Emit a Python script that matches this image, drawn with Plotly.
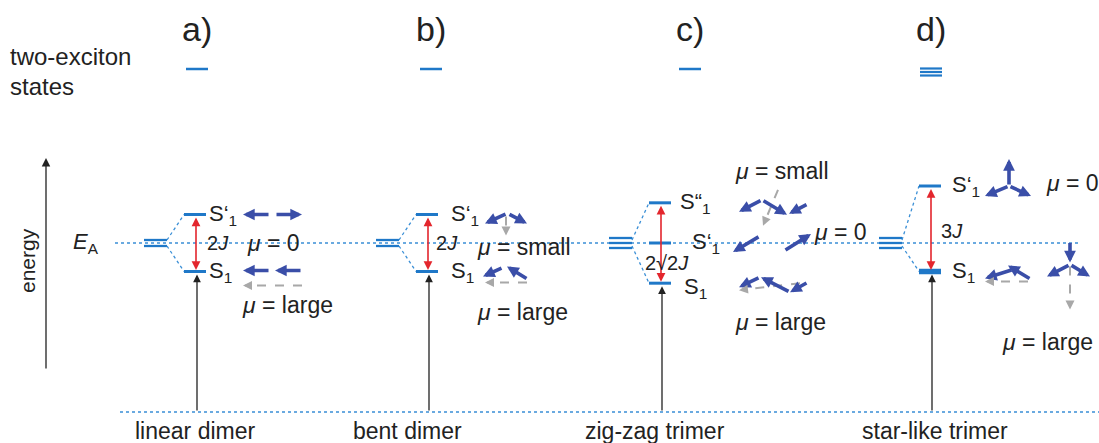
import plotly.graph_objects as go

# ---- data -------------------------------------------------------------
systems = ["linear dimer", "bent dimer", "zig-zag trimer", "star-like trimer"]
panel_tags = ["a)", "b)", "c)", "d)"]
monomer_degeneracy = [2, 2, 3, 3]
biexciton_lines = [1, 1, 1, 3]

# one-exciton energies relative to E_A, in units of J
level_energy = [
    [1.0, -1.0],
    [1.0, -1.0],
    [1.41, 0.0, -1.41],
    [2.0, -1.0],
]
level_degeneracy = [[1, 1], [1, 1], [1, 1, 1], [1, 2]]
level_names = [
    ["S‘<sub>1</sub>", "S<sub>1</sub>"],
    ["S‘<sub>1</sub>", "S<sub>1</sub>"],
    ["S“<sub>1</sub>", "S‘<sub>1</sub>", "S<sub>1</sub>"],
    ["S‘<sub>1</sub>", "S<sub>1</sub>"],
]
splitting = ["2<i>J</i>", "2<i>J</i>", "2√2<i>J</i>", "3<i>J</i>"]
mu_text = [
    ["<i>μ</i> = 0", "<i>μ</i> = large"],
    ["<i>μ</i> = small", "<i>μ</i> = large"],
    ["<i>μ</i> = small", "<i>μ</i> = 0", "<i>μ</i> = large"],
    ["<i>μ</i> = 0", "<i>μ</i> = large"],
]

# ---- layout helpers (pixels) -----------------------------------------
W, H = 1099, 443
EA_PX = 243      # pixel row of E_A
J_PX = 28.5      # pixels per J
BASE_PX = 412    # ground-state line


def ey(px):
    """pixel row -> energy axis value"""
    return (EA_PX - px) / J_PX


panel_x = [196, 428, 661, 931]
tag_x = [197, 431, 690, 931]
label_off = [[(11, 0), (11, 0)], [(21, 0), (21, 0)],
             [(17, 0), (29, 0), (21, 5)], [(19, 0), (19, 0)]]
split_pos = [(9, 243), (6, 243), (-18, 263), (8, 231)]
mu_pos = [[(49, 243), (44, 305)], [(47, 247), (47, 312)],
          [(72, 171), (151, 232), (72, 322)], [(113, 183), (69, 342)]]
name_x = [195, 407, 655, 935]

# dipole pictograms: (level, kind, x0, dy0, x1, dy1) relative to panel x / level row
pictos = [
    [(0, "d", 74, 0, 47, 0), (0, "d", 79, 0, 106, 0),
     (1, "d", 74, -1, 47, -1), (1, "d", 106, -1, 79, -1), (1, "g", 106, 14, 47, 14)],
    [(0, "d", 79, -1, 57, 9), (0, "d", 80, -1, 99, 9), (0, "g", 78, 2, 78, 21),
     (1, "d", 75, -4, 55, 5), (1, "d", 100, 8, 79, -5), (1, "g", 99, 11, 57, 11)],
    [(0, "d", 101, -3, 78, 9), (0, "d", 101, -3, 126, 12), (0, "d", 147, 1, 128, 11),
     (0, "g", 117, -13, 102, 23),
     (1, "d", 99, -7, 72, 9), (1, "d", 123, 8, 150, -9),
     (2, "d", 99, -6, 78, 4), (2, "d", 129, 9, 100, -6), (2, "d", 147, -1, 129, 9),
     (2, "g", 139, 0, 78, 7)],
    [(0, "d", 78, 0, 78, -27), (0, "d", 78, 0, 54, 10), (0, "d", 78, 0, 100, 10),
     (1, "d", 82, -2, 54, 7), (1, "d", 100, 8, 77, -6), (1, "g", 97, 10, 54, 10),
     (1, "d", 139, -30, 139, -9), (1, "d", 139, -7, 116, 5), (1, "d", 139, -7, 159, 5),
     (1, "g", 139, -5, 139, 38)],
]

LEVEL = "#1f78c8"
DOT = "#3a8fd6"
DIP = "#3a4ea8"
RED = "#e3262d"
GRAY = "#a8a8a8"
FONT = "Liberation Sans, Arial, sans-serif"

shapes = []
ann = []


def line(x0, y0, x1, y1, color, width, dash="solid"):
    shapes.append(dict(type="line", xref="x", yref="y", x0=x0, y0=y0, x1=x1, y1=y1,
                       line=dict(color=color, width=width, dash=dash)))


def arrow(x0, y0, x1, y1, color, width, size=1.0, both=False):
    ann.append(dict(x=x1, y=y1, ax=x0, ay=y0, xref="x", yref="y", axref="x", ayref="y",
                    text="", showarrow=True, arrowhead=2, arrowsize=size,
                    arrowwidth=width, arrowcolor=color, standoff=0, startstandoff=0,
                    arrowside="end+start" if both else "end",
                    startarrowhead=2, startarrowsize=size))


def text(x, y, s, size, anchor="left", color="#222", **kw):
    ann.append(dict(x=x, y=y, xref="x", yref="y", text=s, showarrow=False,
                    xanchor=anchor, yanchor="middle",
                    font=dict(family=FONT, size=size, color=color), **kw))


# global elements
line(115, 0, 1080, 0, DOT, 1.5, "dot")
line(120, ey(BASE_PX), W, ey(BASE_PX), DOT, 1.5, "dot")
arrow(46, ey(370), 46, ey(158), "#222", 1.3, 1.3)
text(27, ey(261), "energy", 21, anchor="center", textangle=-90)
text(101, 0, "<i>E</i><sub>A</sub>", 22, anchor="right")
text(8, ey(56), "two-exciton", 24)
text(8, ey(86), "states", 24)

for i, cx in enumerate(panel_x):
    # panel tag and two-exciton states
    text(tag_x[i], ey(29), panel_tags[i], 34, anchor="center")
    n = biexciton_lines[i]
    for k in range(n):
        yy = ey(69 + 3.5 * (k - (n - 1) / 2) + (3 if n > 1 else 0))
        line(tag_x[i] - 11, yy, tag_x[i] + 11, yy, LEVEL, 2.2 if n > 1 else 2.5)

    # monomer level (degenerate)
    m = monomer_degeneracy[i]
    for k in range(m):
        yy = ey(EA_PX + 5 * (k - (m - 1) / 2) if m == 3 else EA_PX + 6 * (k - 0.5))
        line(cx - 52, yy, cx - 29, yy, LEVEL, 2.3)

    E = level_energy[i]
    top, bot = max(E), min(E)
    line(cx - 29, ey(EA_PX - 3), cx - 12, top, DOT, 1.3, "dot")
    line(cx - 29, ey(EA_PX + 3), cx - 12, bot, DOT, 1.3, "dot")

    for j, e in enumerate(E):
        line(cx - 12, e, cx + 10, e, LEVEL, 3 if level_degeneracy[i][j] == 1 else 5.5)
        dx, dy = label_off[i][j]
        text(cx + dx, e - dy / J_PX, level_names[i][j], 22)
        mx, my = mu_pos[i][j]
        text(cx + mx, ey(my), mu_text[i][j], 23)

    # exciton splitting (red) and absorption (black)
    arrow(cx, top - 1.5 / J_PX, cx, bot + 1.5 / J_PX, RED, 1.6, 1.1, both=True)
    text(cx + split_pos[i][0], ey(split_pos[i][1]), splitting[i], 20)
    arrow(cx + 1, ey(BASE_PX), cx + 1, bot - 3 / J_PX, "#222", 1.3, 1.2)

    # transition dipole pictograms
    for lev, kind, x0, dy0, x1, dy1 in pictos[i]:
        e = E[lev]
        y0, y1 = e - dy0 / J_PX, e - dy1 / J_PX
        if kind == "d":
            arrow(cx + x0, y0, cx + x1, y1, DIP, 3.6, 0.65)
        else:
            L = ((x1 - x0) ** 2 + (dy1 - dy0) ** 2) ** 0.5
            ux, uy = (x1 - x0) / L, (dy1 - dy0) / L
            line(cx + x0, y0, cx + x1 - 4 * ux, e - (dy1 - 4 * uy) / J_PX, GRAY, 2, "dash")
            arrow(cx + x1 - 5 * ux, e - (dy1 - 5 * uy) / J_PX, cx + x1, y1, GRAY, 2, 0.9)

    text(name_x[i], ey(431), systems[i], 23, anchor="center")

fig = go.Figure()
fig.update_layout(
    width=W, height=H,
    margin=dict(l=0, r=0, t=0, b=0),
    paper_bgcolor="white", plot_bgcolor="white",
    xaxis=dict(range=[0, W], visible=False, fixedrange=True),
    yaxis=dict(range=[ey(H), ey(0)], visible=False, fixedrange=True),
    shapes=shapes, annotations=ann, showlegend=False,
)
fig.write_html("out.html", config={"displayModeBar": False},
               post_script="document.body.style.margin='0';")
